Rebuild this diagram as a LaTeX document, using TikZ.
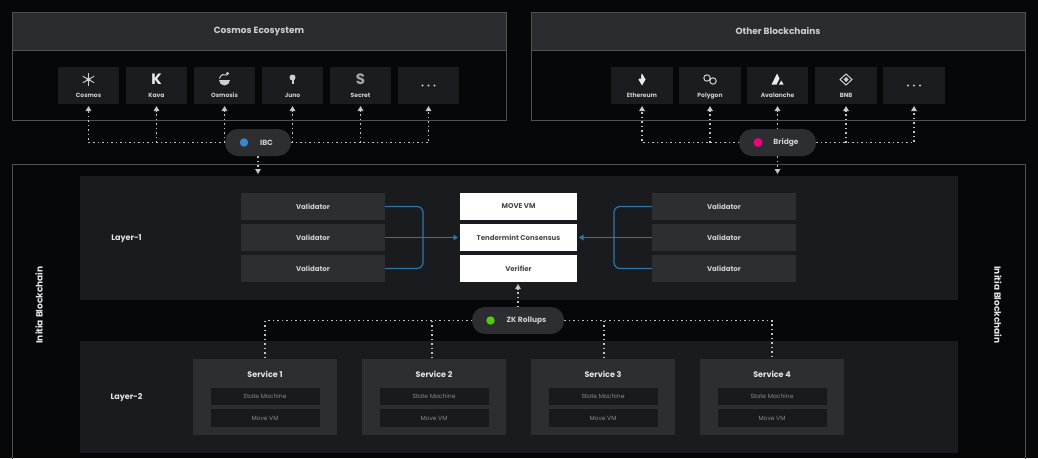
\documentclass[tikz,border=0pt]{standalone}
\usepackage{fontspec}
\setmainfont{Poppins}
\usetikzlibrary{arrows.meta,calc}
\definecolor{bgc}{HTML}{060708}
\definecolor{hdr}{HTML}{2B2C2F}
\definecolor{edge}{HTML}{505152}
\definecolor{tile}{HTML}{1B1C1F}
\definecolor{lay}{HTML}{1A1B1E}
\definecolor{card}{HTML}{2D2E31}
\definecolor{inner}{HTML}{191A1D}
\definecolor{txt}{HTML}{CFCFCF}
\definecolor{blu}{HTML}{2F76A8}
\definecolor{dotc}{HTML}{C4C4C4}
\definecolor{whitetxt}{HTML}{4A4A4A}
\definecolor{mutetxt}{HTML}{8A8A8C}
\pgfdeclarelayer{back}\pgfdeclarelayer{mid}
\pgfsetlayers{back,mid,main}
\tikzset{
 x=1pt,y=-1pt,
 base/.style={inner sep=0pt,outer sep=0pt,align=center,text=txt},
 header/.style={base,fill=hdr,draw=edge,line width=.9pt,font=\fontsize{9}{10}\selectfont\bfseries},
 frame/.style={base,draw=edge,line width=1pt},
 tilebox/.style={base,fill=tile},
 layerbox/.style={base,fill=lay},
 validator/.style={base,fill=card,font=\fontsize{7}{8}\selectfont\bfseries},
 whitebox/.style={base,fill=white,text=whitetxt,font=\fontsize{7}{8}\selectfont\bfseries},
 service/.style={base,fill=card},
 innerbox/.style={base,fill=inner,text=mutetxt,font=\fontsize{6}{7}\selectfont},
 pill/.style={base,fill=card,rounded corners=13pt,font=\fontsize{7.5}{8}\selectfont\bfseries},
 tlabel/.style={inner sep=0pt,anchor=base,text=txt,font=\fontsize{6}{7}\selectfont\bfseries},
 big/.style={inner sep=0pt,text=white!90!black,font=\fontsize{8}{9}\selectfont\bfseries},
 dotline/.style={draw=dotc,line width=1.4pt,dash pattern=on 1.5pt off 3pt},
 tipped/.style={dotline,-{Triangle[length=5pt,width=5.5pt,fill=white!90!black]},shorten >=2pt},
 blueline/.style={draw=blu,line width=1.2pt,rounded corners=6pt},
 bluetip/.style={draw=blu,line width=1.2pt,-{Triangle[length=4.5pt,width=5.5pt]},shorten >=2pt},
 icon/.style={draw=txt,line width=1pt,fill=none},
}
\newcommand{\bx}[7]{\node[#6,minimum width={(#4-#2)*1pt},minimum height={(#5-#3)*1pt}] (#1) at ({(#2+#4)/2},{(#3+#5)/2}) {#7};}
\begin{document}
\begin{tikzpicture}
\useasboundingbox (0,0) rectangle (1038,458);
\begin{pgfonlayer}{back}
\fill[bgc] (0,0) rectangle (1038,458);
% top groups
\bx{gl}{12}{50}{506}{120}{frame}{}
\bx{hl}{12}{12}{506}{50}{header}{Cosmos Ecosystem}
\bx{gr}{531}{50}{1025}{120}{frame}{}
\bx{hr}{531}{12}{1025}{50}{header}{Other Blockchains}
% tiles
\bx{ta}{58}{67}{119}{104}{tilebox}{}
\bx{tb}{126}{67}{187}{104}{tilebox}{}
\bx{tc}{194}{67}{255}{104}{tilebox}{}
\bx{td}{262}{67}{323}{104}{tilebox}{}
\bx{te}{330}{67}{391}{104}{tilebox}{}
\bx{tf}{398}{67}{459}{104}{tilebox}{}
\bx{ra}{611}{67}{673}{104}{tilebox}{}
\bx{rb}{679}{67}{741}{104}{tilebox}{}
\bx{rc}{747}{67}{808}{104}{tilebox}{}
\bx{rd}{815}{67}{877}{104}{tilebox}{}
\bx{re}{883}{67}{945}{104}{tilebox}{}
% main frame
\bx{mainf}{12}{164}{1025}{470}{frame}{}
\bx{l1}{80}{176}{958}{300}{layerbox}{}
\bx{l2}{80}{341}{958}{453}{layerbox}{}
\end{pgfonlayer}
% tile labels
\foreach \n/\t in {ta/Cosmos,tb/Kava,tc/Osmosis,td/Juno,te/Secret,ra/Ethereum,rb/Polygon,rc/Avalanche,rd/BNB}
 \node[tlabel] (lab\n) at ($(\n.center)+(0,11.5)$) {\t};
% "..." tiles
\foreach \n in {tf,re} \foreach \d in {-6,0,6} \fill[txt] ($(\n.center)+(\d,0)$) circle (1.2pt);
% icons
% Cosmos
\foreach \a in {0,60,120} \draw[icon,line width=.9pt] ($(ta.center)+(\a+30:6.5)+(0,-6)$) -- ($(ta.center)+(\a+210:6.5)+(0,-6)$);
\fill[txt] ($(ta.center)+(0,-6)$) circle (2pt);
% Kava
\node[inner sep=0pt,text=white!92!black,font=\fontsize{15}{16}\selectfont\bfseries] at ($(tb.center)+(0,-6.5)$) {K};
% Osmosis
\fill[txt] ($(tc.center)+(-5.5,-5.5)$) arc[start angle=180,end angle=360,radius=5.5pt] -- cycle;
\draw[icon] ($(tc.center)+(-5,-7)$) arc[start angle=170,end angle=60,radius=5pt];
\fill[txt] ($(tc.center)+(3,-12)$) circle (1.6pt);
% Juno
\fill[txt] ($(td.center)+(0,-8)$) circle (3pt);
\fill[txt] ($(td.center)+(-1,-6)$) rectangle ($(td.center)+(1,-1.5)$);
% Secret
\node[inner sep=0pt,text=txt!80!black,font=\fontsize{15}{16}\selectfont\bfseries] at ($(te.center)+(0,-6.5)$) {S};
% Ethereum
\fill[white!92!black] ($(ra.center)+(0,-12)$) -- ($(ra.center)+(3.5,-6)$) -- ($(ra.center)+(0,0)$) -- ($(ra.center)+(-3.5,-6)$) -- cycle;
\fill[tile] ($(ra.center)+(-1,-12)$) -- ($(ra.center)+(-1,-7)$) -- ($(ra.center)+(-5,-7)$) -- cycle;
% Polygon
\draw[icon] ($(rb.center)+(-3,-7.5)$) circle (3.2pt);
\draw[icon] ($(rb.center)+(3,-4.5)$) circle (3.2pt);
% Avalanche
\fill[white!92!black] ($(rc.center)+(-6,-1)$) -- ($(rc.center)+(-0.5,-12)$) -- ($(rc.center)+(2,-7)$) -- ($(rc.center)+(-1,-1)$) -- cycle;
\fill[white!92!black] ($(rc.center)+(1.5,-1)$) -- ($(rc.center)+(3.8,-5)$) -- ($(rc.center)+(6,-1)$) -- cycle;
% BNB
\draw[icon] ($(rd.center)+(0,-11.5)$) -- ($(rd.center)+(6,-6)$) -- ($(rd.center)+(0,-0.5)$) -- ($(rd.center)+(-6,-6)$) -- cycle;
\fill[txt] ($(rd.center)+(0,-8.5)$) -- ($(rd.center)+(2.5,-6)$) -- ($(rd.center)+(0,-3.5)$) -- ($(rd.center)+(-2.5,-6)$) -- cycle;
% pills
\bx{ibc}{225}{129}{291}{156}{pill}{\hspace*{17pt}IBC}
\bx{bridge}{739}{129}{816}{156}{pill}{\hspace*{17pt}Bridge}
\bx{zk}{472}{307}{564}{334}{pill}{\hspace*{17pt}ZK Rollups}
\fill[cyan!60!blue!85!white] (244,142.5) circle (4.2pt);
\fill[magenta!85!red] (758,142.5) circle (4.5pt);
\fill[green!70!black!60!lime] (490.5,320.5) circle (4.2pt);
% validators
\bx{va}{241}{193}{385}{220}{validator}{Validator}
\bx{vb}{241}{224}{385}{251}{validator}{Validator}
\bx{vc}{241}{255}{385}{282}{validator}{Validator}
\bx{vd}{652}{193}{796}{220}{validator}{Validator}
\bx{ve}{652}{224}{796}{251}{validator}{Validator}
\bx{vf}{652}{255}{796}{282}{validator}{Validator}
\bx{move}{460}{193}{577}{220}{whitebox}{MOVE VM}
\bx{tm}{460}{224}{577}{251}{whitebox}{Tendermint Consensus}
\bx{verif}{460}{255}{577}{282}{whitebox}{Verifier}
\node[big] (ly1) at (126.5,239) {Layer-1};
\node[big] (ly2) at (126.5,398) {Layer-2};
\node[big,rotate=90,font=\fontsize{9}{10}\selectfont\bfseries] (ibl) at (39,305) {Initia Blockchain};
\node[big,rotate=-90,font=\fontsize{9}{10}\selectfont\bfseries] (ibr) at (998,305) {Initia Blockchain};
% services
\foreach \n/\a/\k in {sa/193/1,sb/362/2,sc/531/3,sd/700/4}{
 \pgfmathsetmacro\bb{\a+144}
 \pgfmathsetmacro\ia{\a+17.5}
 \pgfmathsetmacro\ib{\a+126.5}
 \bx{\n}{\a}{359}{\bb}{435}{service}{}
 \node[big] (\n t) at ($(\n.north)+(0,15)$) {Service \k};
 \bx{\n i}{\ia}{388}{\ib}{405}{innerbox}{State Machine}
 \bx{\n j}{\ia}{409}{\ib}{427}{innerbox}{Move VM}
}
\begin{pgfonlayer}{mid}
% IBC
\draw[tipped] (ibc.west) -| (ta.south);
\draw[tipped] (ibc.east) -| (tf.south);
\foreach \n in {tb,tc,td,te} \draw[tipped] (\n.south |- ibc.west) -- (\n.south);
\draw[tipped] (ibc.south) -- (ibc.south |- l1.north);
% Bridge
\draw[tipped] (bridge.west) -| (ra.south);
\draw[tipped] (bridge.east) -| (re.south);
\foreach \n in {rb,rc,rd} \draw[tipped] (\n.south |- bridge.west) -- (\n.south);
\draw[tipped] (bridge.south) -- (bridge.south |- l1.north);
% ZK
\draw[tipped] (zk.north) -- (zk.north |- verif.south);
\draw[dotline] (zk.west) -| (sa.north);
\draw[dotline] (zk.east) -| (sd.north);
\draw[dotline] ($(sb.north |- zk.west)+(-2,0)$) -- ($(sb.north)+(-2,0)$);
\draw[dotline] ($(sc.north |- zk.east)+(1,0)$) -- ($(sc.north)+(1,0)$);
% blue
\draw[blueline] (va.east) -- ++(38,0) |- (vc.east);
\draw[bluetip] (vb.east) -- (tm.west);
\draw[blueline] (vd.west) -- ++(-38,0) |- (vf.west);
\draw[bluetip] (ve.west) -- (tm.east);
\end{pgfonlayer}
\end{tikzpicture}
\end{document}
